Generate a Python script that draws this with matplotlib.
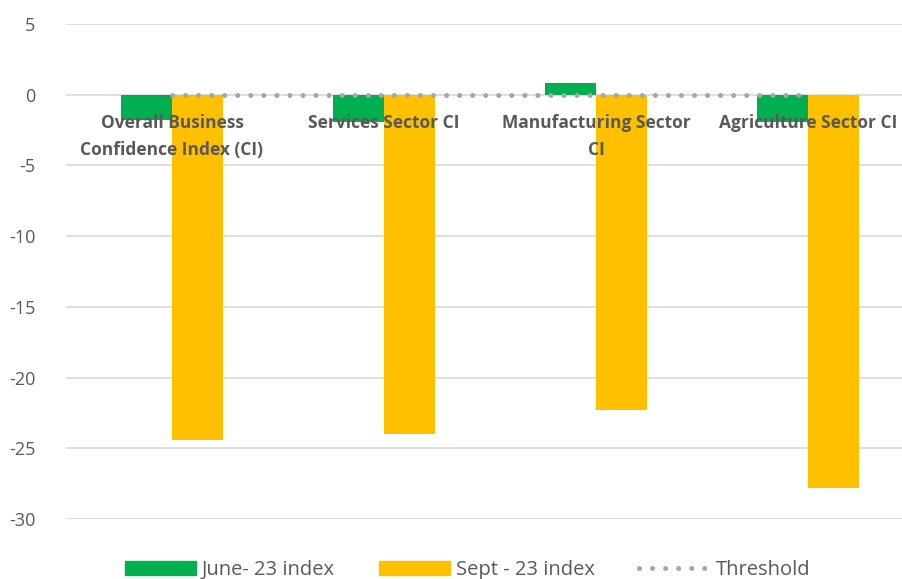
import numpy as np
import matplotlib.pyplot as plt
from matplotlib.patches import Patch
from matplotlib.lines import Line2D

# Business confidence indices by sector
categories = ["Overall Business\nConfidence Index (CI)", "Services Sector CI",
              "Manufacturing Sector\nCI", "Agriculture Sector CI"]
june_23 = [-1.8, -1.9, 0.8, -1.9]
sept_23 = [-24.4, -24.0, -22.3, -27.8]
threshold = [0, 0, 0, 0]

GREEN = "#00B050"
YELLOW = "#FFC000"
GREY_TXT = "#595959"
DOTS = (0, (0.01, 2.6))

plt.rcParams['font.family'] = ['Open Sans', 'DejaVu Sans']
plt.rcParams['axes.unicode_minus'] = False

fig = plt.figure(figsize=(9.03, 5.79), dpi=100)
# plot area runs past the right edge of the canvas
ax = fig.add_axes([66 / 903, 1 - 519 / 579, 848 / 903, 495 / 579])

x = np.arange(len(categories))
width = 0.24

ax.bar(x - width / 2, june_23, width, color=GREEN, zorder=2)
ax.bar(x + width / 2, sept_23, width, color=YELLOW, zorder=2)
ax.plot(x, threshold, color="#A6A6A6", linewidth=3.6, linestyle=DOTS,
        dash_capstyle="round", zorder=3)

for xi, lab in zip(x, categories):
    ax.text(xi, -1.35, lab, ha="center", va="top", fontsize=12.5, fontweight="bold",
            color=GREY_TXT, linespacing=1.65, zorder=4)

ax.set_xlim(-0.5, 3.5)
ax.set_ylim(-30, 5)
ax.set_yticks(np.arange(-30, 6, 5))
ax.set_xticks([])
ax.grid(axis="y", color="#D9D9D9", linewidth=1.2, zorder=0)
ax.set_axisbelow(True)
for s in ax.spines.values():
    s.set_visible(False)
ax.tick_params(axis="y", length=0, labelsize=13, labelcolor=GREY_TXT, pad=22)

handles = [Patch(color=GREEN, label="June- 23 index"),
           Patch(color=YELLOW, label="Sept - 23 index"),
           Line2D([], [], color="#A6A6A6", linewidth=3.6, linestyle=DOTS,
                  dash_capstyle="round", label="Threshold")]
fig.legend(handles=handles, loc="center", bbox_to_anchor=(0.518, 1 - 570 / 579), ncol=3,
           frameon=False, fontsize=14.5, handlelength=3.5, handleheight=0.75,
           handletextpad=0.3, columnspacing=2.2, labelcolor=GREY_TXT)

plt.savefig("out.png", dpi=100)
